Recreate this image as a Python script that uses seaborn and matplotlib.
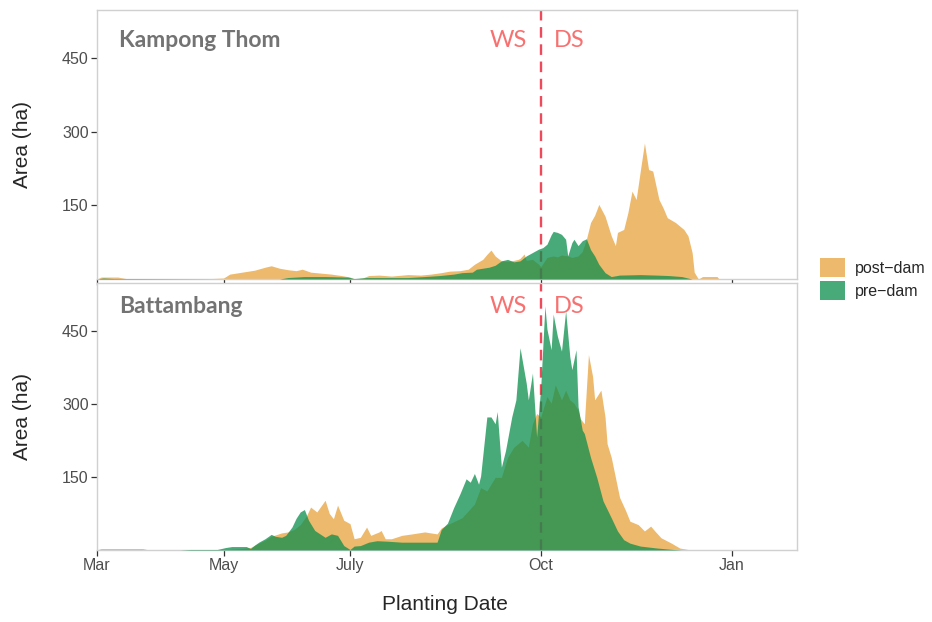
import pandas as pd
import matplotlib
matplotlib.use("Agg")
import matplotlib.pyplot as plt
from matplotlib.patches import Patch
import seaborn as sns

# planting area per day, x values are days after 1 March
season_start = pd.Timestamp("2018-03-01")
split_date = pd.Timestamp("2018-10-01")
season_days = 337.6

kt_post_days = [0, 2, 10, 14, 30, 55, 61, 64, 70, 76, 81, 84, 88, 92, 96, 99, 103, 108, 113, 118,
                122, 124, 128, 131, 136, 142, 150, 156, 161, 166, 170, 175, 179, 182, 186, 188, 190, 192, 195, 198,
                200, 203, 204, 206, 207, 210, 213, 214, 217, 220, 222, 224, 227, 229, 232, 234, 236, 238, 240, 242,
                245, 248, 250, 251, 254, 256, 258, 260, 262, 264, 266, 268, 271, 273, 275, 279, 283, 285, 287, 288,
                290, 292, 299, 300, 336]
kt_post_area = [0, 4, 4, 1, 1, 1, 2, 10, 14, 18, 24, 27, 22, 19, 17, 20, 14, 12, 10, 7,
                4, 0, 2, 7, 8, 6, 9, 8, 10, 13, 16, 17, 20, 30, 40, 50, 59, 47, 37, 36,
                37, 40, 42, 51, 38, 40, 30, 25, 44, 47, 45, 49, 47, 44, 47, 56, 81, 115, 130, 152,
                128, 88, 68, 95, 101, 135, 179, 162, 220, 277, 223, 220, 162, 145, 125, 115, 101, 88, 54, 14,
                0, 5, 5, 0, 0]

kt_pre_days = [0, 3, 8, 60, 88, 92, 100, 110, 121, 124, 130, 150, 158, 165, 172, 176, 181, 183, 189, 192,
               195, 198, 201, 204, 207, 210, 213, 215, 217, 219, 220, 222, 224, 226, 227, 229, 230, 232, 234, 236,
               238, 240, 242, 245, 248, 252, 262, 270, 276, 282, 287, 336]
kt_pre_area = [0, 2, 1, 0, 0, 3, 5, 5, 4, 1, 3, 3, 5, 7, 10, 13, 14, 20, 24, 28,
               37, 40, 35, 37, 47, 54, 61, 64, 71, 90, 97, 95, 91, 81, 47, 74, 81, 68, 78, 82,
               60, 47, 30, 13, 5, 8, 9, 8, 7, 5, 0, 0]

bt_post_days = [0, 2, 22, 25, 60, 70, 74, 78, 81, 84, 89, 92, 95, 98, 101, 103, 106, 110, 112, 114,
                116, 119, 122, 124, 127, 130, 132, 136, 137, 139, 142, 147, 152, 158, 164, 166, 169, 176, 182, 185,
                188, 192, 195, 198, 201, 205, 208, 210, 212, 214, 216, 217, 219, 221, 224, 226, 228, 230, 232, 233,
                235, 237, 239, 240, 243, 245, 246, 248, 250, 252, 255, 257, 261, 264, 267, 269, 272, 277, 281, 285,
                290, 336]
bt_post_area = [0, 3, 3, 0, 0, 3, 5, 14, 20, 28, 35, 37, 42, 52, 70, 88, 78, 102, 75, 64,
                92, 61, 54, 23, 26, 47, 30, 37, 40, 23, 23, 30, 33, 37, 33, 45, 52, 66, 94, 128,
                121, 149, 149, 190, 211, 225, 211, 259, 280, 273, 301, 315, 301, 339, 308, 328, 308, 301, 287, 270,
                259, 401, 356, 308, 328, 273, 218, 190, 149, 108, 80, 59, 52, 39, 49, 39, 25, 14, 4, 1,
                0, 0]

bt_pre_days = [0, 40, 45, 58, 62, 65, 72, 74, 76, 78, 81, 84, 86, 89, 91, 94, 96, 98, 100, 102,
               105, 110, 113, 116, 119, 122, 124, 127, 131, 135, 140, 147, 153, 160, 164, 166, 169, 172, 175, 178,
               180, 182, 184, 185, 188, 190, 192, 193, 195, 197, 200, 202, 204, 207, 208, 210, 212, 214, 216, 217,
               219, 220, 222, 224, 226, 228, 229, 231, 232, 234, 235, 238, 241, 244, 248, 251, 254, 257, 262, 270,
               278, 282, 336]
bt_pre_area = [0, 0, 1, 1, 5, 7, 7, 3, 10, 16, 23, 32, 28, 26, 30, 47, 65, 78, 83, 61,
               40, 26, 33, 30, 9, 1, 8, 9, 16, 19, 18, 16, 16, 16, 16, 42, 55, 87, 115, 146,
               139, 157, 135, 152, 273, 273, 259, 284, 170, 204, 273, 308, 415, 342, 308, 363, 232, 335, 501, 453,
               411, 484, 439, 408, 491, 397, 370, 411, 294, 246, 239, 190, 149, 101, 66, 39, 21, 14, 8, 4,
               1, 0, 0]

tick_dates = ["2018-03-01", "2018-05-01", "2018-07-01", "2018-10-01", "2019-01-01"]
tick_labels = ["Mar", "May", "July", "Oct", "Jan"]
y_ticks = [150, 300, 450]

provinces = ["Kampong Thom", "Battambang"]
series = {
    "Kampong Thom": (kt_post_days, kt_post_area, kt_pre_days, kt_pre_area),
    "Battambang": (bt_post_days, bt_post_area, bt_pre_days, bt_pre_area),
}

post_color = "#EDB96C"
pre_color = "#0B8E4B"
pre_alpha = 0.75
line_color = "#EF4A5C"
season_color = "#F87171"

sns.set_theme(style="white")
plt.rcParams['font.family'] = ['Liberation Sans', 'DejaVu Sans']


def to_dates(days):
    return season_start + pd.to_timedelta(days, unit="D")


fig = plt.figure(figsize=(9.32, 6.22), dpi=100)
ax_top = fig.add_axes([0.1041, 0.5514, 0.7511, 0.4325])
ax_bot = fig.add_axes([0.1041, 0.1158, 0.7511, 0.4293])

label_y = {"Kampong Thom": 0.862, "Battambang": 0.888}

for ax, name in zip([ax_top, ax_bot], provinces):
    post_d, post_a, pre_d, pre_a = series[name]
    ax.fill_between(to_dates(post_d), post_a, 0, color=post_color, lw=0)
    ax.axvline(split_date, color=line_color, lw=1.7, dashes=(4.5, 2.8), zorder=2)
    ax.fill_between(to_dates(pre_d), pre_a, 0, color=pre_color, alpha=pre_alpha, lw=0, zorder=3)

    ax.set_xlim(season_start, season_start + pd.Timedelta(days=season_days))
    ax.set_ylim(0, 548)
    ax.set_xticks(pd.to_datetime(tick_dates))
    ax.set_yticks(y_ticks)
    ax.set_yticklabels([str(v) for v in y_ticks])
    ax.tick_params(axis='both', which='both', direction='out', length=4, width=0.9,
                   color='#333333', labelsize=11.5, labelcolor='#4D4D4D', pad=2,
                   bottom=True, left=True)
    for sp in ax.spines.values():
        sp.set_color('#D0D0D0')
        sp.set_linewidth(1.0)

    ax.text(0.032, label_y[name], name, transform=ax.transAxes, ha='left', va='baseline',
            fontsize=16.5, color='#737373', family=['Lato', 'DejaVu Sans'], fontweight='bold')
    ax.text(split_date - pd.Timedelta(days=6.5), label_y[name], "WS", transform=ax.get_xaxis_transform(),
            ha='right', va='baseline', fontsize=17, color=season_color, family=['Lato', 'DejaVu Sans'])
    ax.text(split_date + pd.Timedelta(days=6.5), label_y[name], "DS", transform=ax.get_xaxis_transform(),
            ha='left', va='baseline', fontsize=17, color=season_color, family=['Lato', 'DejaVu Sans'])

ax_top.set_xticklabels([])
ax_bot.set_xticklabels(tick_labels)

fig.text(23 / 932, 1 - 145 / 622, "Area (ha)", rotation=90, ha='center', va='center', fontsize=15)
fig.text(23 / 932, 1 - 417 / 622, "Area (ha)", rotation=90, ha='center', va='center', fontsize=15)
fig.text(445 / 932, 1 - 605 / 622, "Planting Date", ha='center', va='center', fontsize=15)

handles = [Patch(facecolor=post_color, edgecolor='none', label="post\u2212dam"),
           Patch(facecolor=pre_color, alpha=pre_alpha, edgecolor='none', label="pre\u2212dam")]
fig.legend(handles=handles, loc='upper left', bbox_to_anchor=(820 / 932, 1 - 258 / 622),
           frameon=False, fontsize=11.5, handlelength=1.56, handleheight=1.5,
           handletextpad=0.63, labelspacing=0.2, borderpad=0, borderaxespad=0)

fig.savefig("out.png", dpi=100)
